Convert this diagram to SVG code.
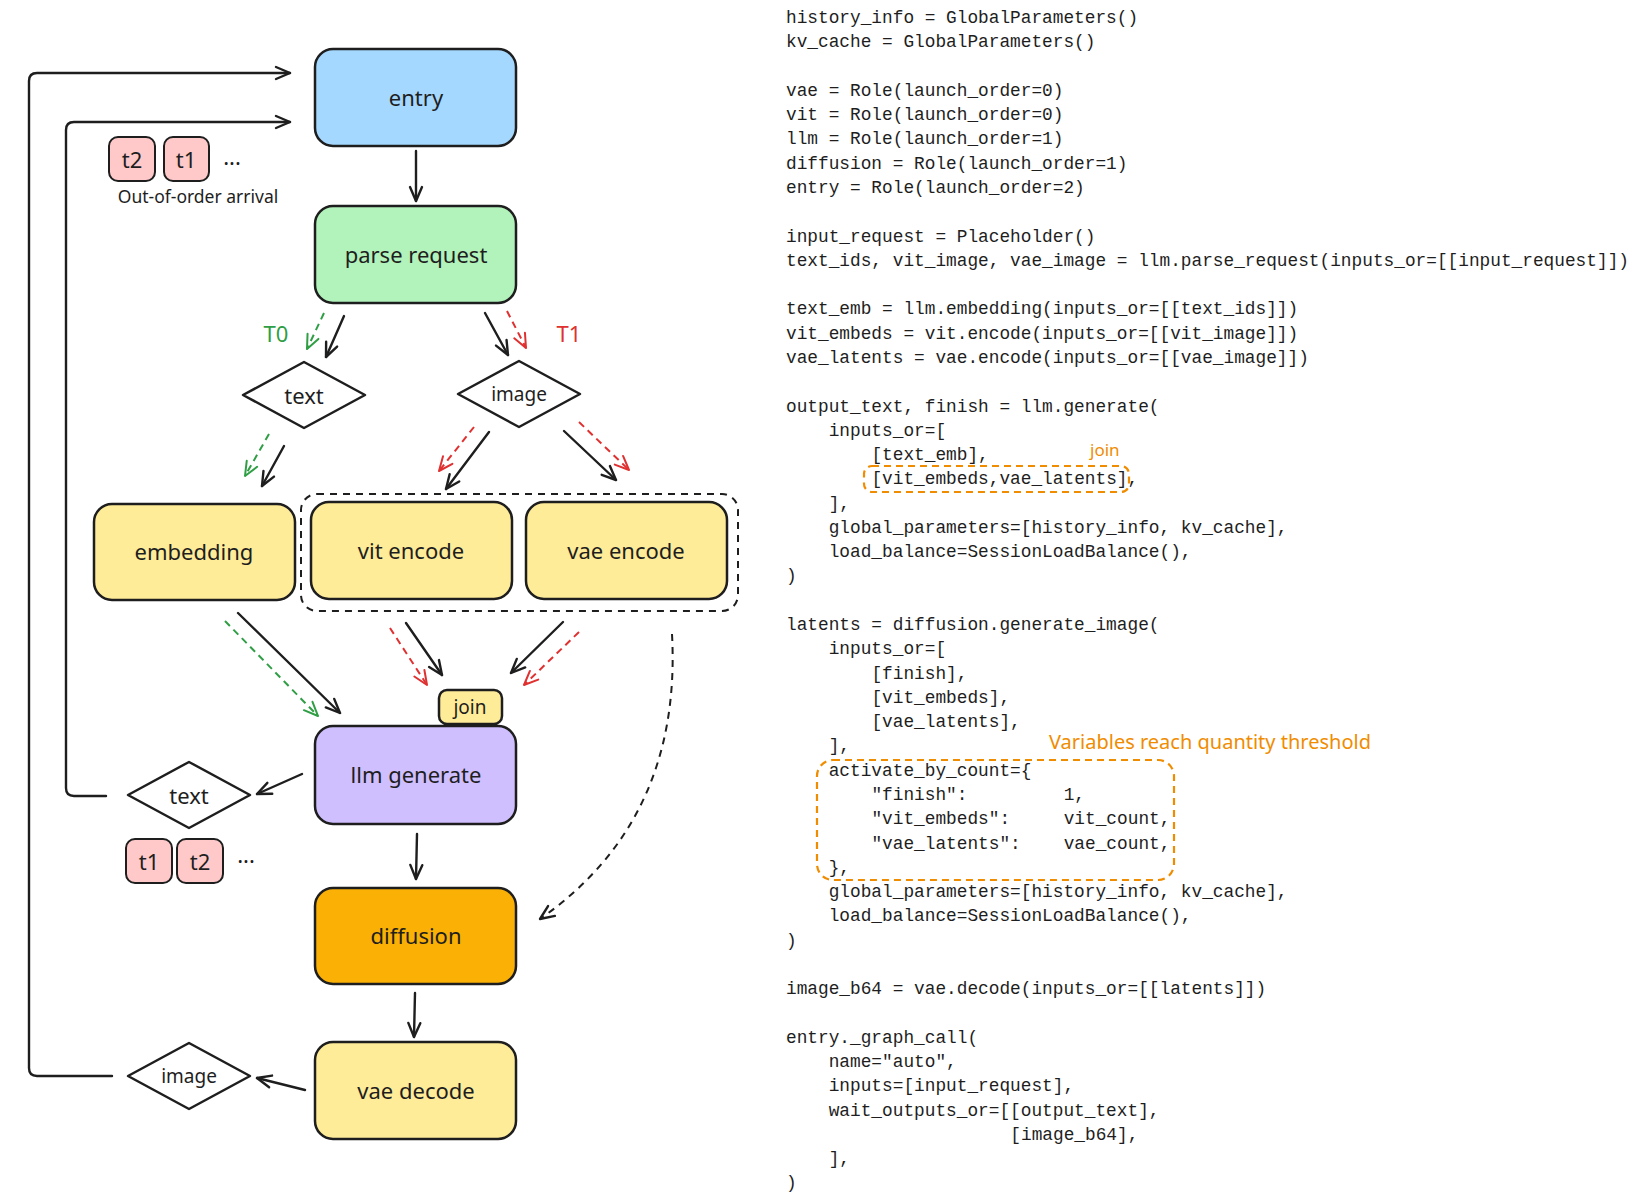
<svg xmlns="http://www.w3.org/2000/svg" width="1634" height="1196" viewBox="0 0 1634 1196">
<defs>
<style>
.node{stroke:#1e1e1e;stroke-width:2.5}
.lbl{font-family:"Noto Sans","DejaVu Sans",sans-serif;font-size:22px;fill:#1e1e1e;text-anchor:middle;dominant-baseline:central}
.small{font-size:19px}
.tag{fill:#ffc9c9;stroke:#1e1e1e;stroke-width:2}
.code{font-family:"Liberation Mono","DejaVu Sans Mono",monospace;font-size:17.8px;fill:#1e1e1e}
.ann{font-family:"Noto Sans","DejaVu Sans",sans-serif;fill:#f08c00}
.blk{fill:none;stroke:#1e1e1e;stroke-width:2.4;stroke-linecap:round;stroke-linejoin:round}
.grn{fill:none;stroke:#2f9e44;stroke-width:2;stroke-dasharray:7 5}
.red{fill:none;stroke:#e03131;stroke-width:2;stroke-dasharray:7 5}
.dsh{fill:none;stroke:#1e1e1e;stroke-width:2;stroke-dasharray:7 6}
.odsh{fill:none;stroke:#f08c00;stroke-width:2.2;stroke-dasharray:7 5}
</style>
<marker id="ab" markerUnits="userSpaceOnUse" markerWidth="20" markerHeight="20" viewBox="0 0 20 20" refX="16" refY="10" orient="auto"><path d="M2,4 L16,10 L2,16" fill="none" stroke="#1e1e1e" stroke-width="2.4" stroke-linecap="round" stroke-linejoin="round"/></marker>
<marker id="ag" markerUnits="userSpaceOnUse" markerWidth="20" markerHeight="20" viewBox="0 0 20 20" refX="16" refY="10" orient="auto"><path d="M2,4 L16,10 L2,16" fill="none" stroke="#2f9e44" stroke-width="2" stroke-linecap="round" stroke-linejoin="round"/></marker>
<marker id="ar" markerUnits="userSpaceOnUse" markerWidth="20" markerHeight="20" viewBox="0 0 20 20" refX="16" refY="10" orient="auto"><path d="M2,4 L16,10 L2,16" fill="none" stroke="#e03131" stroke-width="2" stroke-linecap="round" stroke-linejoin="round"/></marker>
</defs>
<rect width="1634" height="1196" fill="#ffffff"/>

<g id="connectors">
<path class="blk" d="M112,1076 L37,1076 Q29,1076 29,1068 L29,81 Q29,73 37,73 L290,73" marker-end="url(#ab)"/>
<path class="blk" d="M106,796 L74,796 Q66,796 66,788 L66,130 Q66,122 74,122 L290,122" marker-end="url(#ab)"/>
<path class="blk" d="M416,151 L416,201" marker-end="url(#ab)"/>
<path class="blk" d="M344,316 L326,357" marker-end="url(#ab)"/>
<path class="grn" d="M324,313 L307,349" marker-end="url(#ag)"/>
<path class="blk" d="M485,313 L508,355" marker-end="url(#ab)"/>
<path class="red" d="M507,311 L526,348" marker-end="url(#ar)"/>
<path class="grn" d="M269,434 L245,476" marker-end="url(#ag)"/>
<path class="blk" d="M284,446 L262,486" marker-end="url(#ab)"/>
<path class="red" d="M474,427 L439,471" marker-end="url(#ar)"/>
<path class="blk" d="M489,432 L446,489" marker-end="url(#ab)"/>
<path class="blk" d="M564,431 L616,480" marker-end="url(#ab)"/>
<path class="red" d="M579,422 L629,470" marker-end="url(#ar)"/>
<path class="blk" d="M238,613 L340,713" marker-end="url(#ab)"/>
<path class="grn" d="M225,621 L318,716" marker-end="url(#ag)"/>
<path class="red" d="M390,628 L427,685" marker-end="url(#ar)"/>
<path class="blk" d="M406,623 L442,675" marker-end="url(#ab)"/>
<path class="blk" d="M563,622 L511,673" marker-end="url(#ab)"/>
<path class="red" d="M579,632 L524,685" marker-end="url(#ar)"/>
<path class="blk" d="M302,774 L257,794" marker-end="url(#ab)"/>
<path class="blk" d="M417,834 L416,879" marker-end="url(#ab)"/>
<path class="blk" d="M415,993 L414,1037" marker-end="url(#ab)"/>
<path class="blk" d="M305,1090 L257,1078" marker-end="url(#ab)"/>
<path class="dsh" d="M672,634 Q682,820 540,919" marker-end="url(#ab)"/>
</g>

<g id="group-encoders"><rect x="301" y="494" width="437" height="117" rx="16" class="dsh"/></g>

<g id="node-entry"><rect x="315" y="49" width="201" height="97" rx="18" fill="#a5d8ff" class="node"/><text x="416" y="97" class="lbl">entry</text></g>
<g id="node-parse"><rect x="315" y="206" width="201" height="97" rx="18" fill="#b2f2bb" class="node"/><text x="416" y="254" class="lbl">parse request</text></g>
<g id="node-text1"><path d="M243,395 L304,362 L365,395 L304,428 Z" fill="#ffffff" class="node" stroke-linejoin="round"/><text x="304" y="395" class="lbl">text</text></g>
<g id="node-image1"><path d="M458,394 L519,361 L580,394 L519,427 Z" fill="#ffffff" class="node" stroke-linejoin="round"/><text x="519" y="394" class="lbl small">image</text></g>
<g id="node-embedding"><rect x="94" y="504" width="201" height="96" rx="18" fill="#ffec99" class="node"/><text x="194" y="551" class="lbl">embedding</text></g>
<g id="node-vit"><rect x="311" y="502" width="201" height="97" rx="18" fill="#ffec99" class="node"/><text x="411" y="550" class="lbl">vit encode</text></g>
<g id="node-vae-enc"><rect x="526" y="502" width="201" height="97" rx="18" fill="#ffec99" class="node"/><text x="626" y="550" class="lbl">vae encode</text></g>
<g id="node-join"><rect x="439" y="690" width="63" height="34" rx="8" fill="#ffec99" class="node" stroke-width="2"/><text x="470" y="707" class="lbl small">join</text></g>
<g id="node-llm"><rect x="315" y="726" width="201" height="98" rx="18" fill="#d0bfff" class="node"/><text x="416" y="774" class="lbl">llm generate</text></g>
<g id="node-text2"><path d="M128,795 L189,762 L250,795 L189,828 Z" fill="#ffffff" class="node" stroke-linejoin="round"/><text x="189" y="795" class="lbl">text</text></g>
<g id="node-diffusion"><rect x="315" y="888" width="201" height="96" rx="18" fill="#fab005" class="node"/><text x="416" y="935" class="lbl">diffusion</text></g>
<g id="node-vae-dec"><rect x="315" y="1042" width="201" height="97" rx="18" fill="#ffec99" class="node"/><text x="416" y="1090" class="lbl">vae decode</text></g>
<g id="node-image2"><path d="M128,1076 L189,1043 L250,1076 L189,1109 Z" fill="#ffffff" class="node" stroke-linejoin="round"/><text x="189" y="1076" class="lbl small">image</text></g>

<g id="tags-top">
<rect x="109" y="137" width="46" height="44" rx="9" class="tag"/><text x="132" y="159" class="lbl">t2</text>
<rect x="164" y="137" width="45" height="44" rx="9" class="tag"/><text x="186" y="159" class="lbl">t1</text>
<text x="232" y="156" class="lbl" font-size="18">...</text>
<text x="198" y="196" class="lbl" style="font-size:17.5px">Out-of-order arrival</text>
</g>
<g id="tags-bottom">
<rect x="126" y="839" width="46" height="44" rx="9" class="tag"/><text x="149" y="861" class="lbl">t1</text>
<rect x="177" y="839" width="46" height="44" rx="9" class="tag"/><text x="200" y="861" class="lbl">t2</text>
<text x="246" y="854" class="lbl" font-size="18">...</text>
</g>
<g id="branch-labels">
<text x="276" y="333" class="lbl" style="fill:#2f9e44">T0</text>
<text x="569" y="333" class="lbl" style="fill:#e03131">T1</text>
</g>

<g id="code" class="code">
<text x="786" y="23">history_info = GlobalParameters()</text>
<text x="786" y="47.3">kv_cache = GlobalParameters()</text>
<text x="786" y="95.8">vae = Role(launch_order=0)</text>
<text x="786" y="120.1">vit = Role(launch_order=0)</text>
<text x="786" y="144.4">llm = Role(launch_order=1)</text>
<text x="786" y="168.7">diffusion = Role(launch_order=1)</text>
<text x="786" y="193">entry = Role(launch_order=2)</text>
<text x="786" y="241.5">input_request = Placeholder()</text>
<text x="786" y="265.8">text_ids, vit_image, vae_image = llm.parse_request(inputs_or=[[input_request]])</text>
<text x="786" y="314.4">text_emb = llm.embedding(inputs_or=[[text_ids]])</text>
<text x="786" y="338.6">vit_embeds = vit.encode(inputs_or=[[vit_image]])</text>
<text x="786" y="362.9">vae_latents = vae.encode(inputs_or=[[vae_image]])</text>
<text x="786" y="411.5">output_text, finish = llm.generate(</text>
<text x="828.7" y="435.8">inputs_or=[</text>
<text x="871.4" y="460">[text_emb],</text>
<text x="871.4" y="484.3">[vit_embeds,vae_latents],</text>
<text x="828.7" y="508.6">],</text>
<text x="828.7" y="532.9">global_parameters=[history_info, kv_cache],</text>
<text x="828.7" y="557.2">load_balance=SessionLoadBalance(),</text>
<text x="786" y="581.4">)</text>
<text x="786" y="630">latents = diffusion.generate_image(</text>
<text x="828.7" y="654.3">inputs_or=[</text>
<text x="871.4" y="678.6">[finish],</text>
<text x="871.4" y="702.8">[vit_embeds],</text>
<text x="871.4" y="727.1">[vae_latents],</text>
<text x="828.7" y="751.4">],</text>
<text x="828.7" y="775.7">activate_by_count={</text>
<text x="871.4" y="800">"finish":<tspan x="1063.7">1,</tspan></text>
<text x="871.4" y="824.2">"vit_embeds":<tspan x="1063.7">vit_count,</tspan></text>
<text x="871.4" y="848.5">"vae_latents":<tspan x="1063.7">vae_count,</tspan></text>
<text x="828.7" y="872.8">},</text>
<text x="828.7" y="897.1">global_parameters=[history_info, kv_cache],</text>
<text x="828.7" y="921.4">load_balance=SessionLoadBalance(),</text>
<text x="786" y="945.6">)</text>
<text x="786" y="994.2">image_b64 = vae.decode(inputs_or=[[latents]])</text>
<text x="786" y="1042.8">entry._graph_call(</text>
<text x="828.7" y="1067">name="auto",</text>
<text x="828.7" y="1091.3">inputs=[input_request],</text>
<text x="828.7" y="1115.6">wait_outputs_or=[[output_text],</text>
<text x="1010.3" y="1139.9">[image_b64],</text>
<text x="828.7" y="1164.2">],</text>
<text x="786" y="1188.4">)</text>
</g>

<g id="annotations">
<rect x="864" y="466" width="265" height="26" rx="8" class="odsh"/>
<text x="1090" y="456" class="ann" font-size="17">join</text>
<rect x="817" y="760" width="357" height="120" rx="16" class="odsh"/>
<text x="1049" y="749" class="ann" font-size="20">Variables reach quantity threshold</text>
</g>
</svg>
